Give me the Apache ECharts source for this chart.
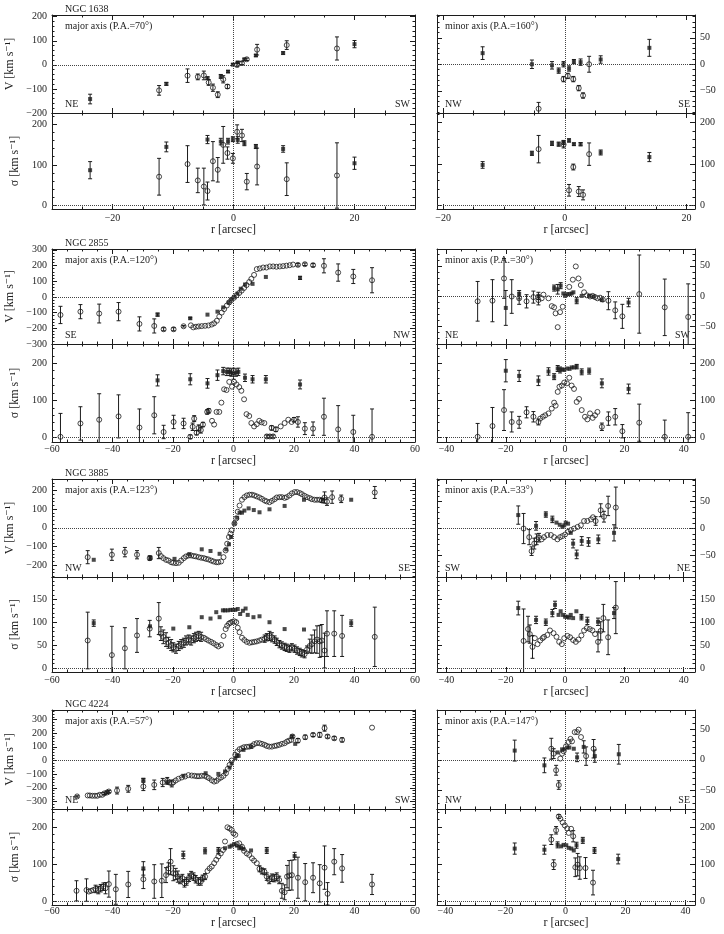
<!DOCTYPE html>
<html>
<head>
<meta charset="utf-8">
<script src="https://cdn.jsdelivr.net/npm/echarts@6/dist/echarts.min.js"></script>
<style>
    html, body { margin: 0; padding: 0; background: #fff; }
    #chart { width: 724px; height: 934px; }
</style>
</head>
<body>
<div id="chart"></div>
<script>
    // each point: [r (arcsec), value (km/s), error half-length (0 = no bar)]
    const galaxies = ['NGC 1638', 'NGC 2855', 'NGC 3885', 'NGC 4224'];
    const majorPA = ['70', '120', '123', '57'];
    const minorPA = ['160', '30', '33', '147'];
    const majorEnds = [['NE', 'SW'], ['SE', 'NW'], ['NW', 'SE'], ['NE', 'SW']];
    const minorEnds = [['NW', 'SE'], ['NE', 'SW'], ['SW', 'NE'], ['NW', 'SE']];

    // ---------- NGC 1638 ----------
    const n1638MajVOpen = [[-12.3,-106,20],[-7.6,-45,28],[-5.9,-50,12],[-4.9,-44,18],[-4.1,-73,12],[-3.4,-95,15],[-2.6,-124,12],[-1.7,-60,15],[-1.0,-90,8],[0.6,0,8],[1.4,7,6],[2.2,23,5],[3.9,63,22],[8.8,82,18],[17.1,68,48]];
    const n1638MajVFill = [[-23.7,-142,20],[-11.1,-79,6],[-4.3,-55,5],[-2.1,-48,8],[-0.9,-28,4],[-0.1,1,4],[0.7,10,4],[1.8,23,4],[3.7,39,4],[8.2,49,5],[20.0,86,15]];
    const n1638MajSOpen = [[-12.3,71,45],[-7.6,102,45],[-5.9,62,30],[-4.9,47,45],[-4.3,36,22],[-3.4,109,48],[-2.6,88,30],[-1.7,149,45],[-1.0,129,15],[-0.1,116,12],[0.6,181,17],[1.4,172,15],[2.2,59,20],[3.9,96,45],[8.8,65,40],[17.1,74,80]];
    const n1638MajSFill = [[-23.7,87,21],[-11.1,144,12],[-4.3,162,10],[-2.1,157,8],[-0.9,158,7],[-0.1,163,6],[0.7,161,8],[1.8,153,6],[3.7,145,5],[8.2,139,8],[20.0,104,15]];
    const n1638MinVOpen = [[-4.3,-84,12],[-0.2,-28,5],[0.5,-22,5],[1.4,-28,5],[2.3,-45,5],[3.0,-59,5],[4.0,0,15]];
    const n1638MinVFill = [[-13.5,21,12],[-5.4,0,8],[-2.1,-2,7],[-1.0,-12,5],[-0.2,0,5],[0.7,-8,5],[1.5,5,4],[2.6,4,6],[5.9,9,7],[13.9,31,16]];
    const n1638MinSOpen = [[-4.3,136,33],[-0.2,147,8],[0.7,37,14],[1.4,93,7],[2.3,34,12],[3.0,26,12],[4.0,124,27]];
    const n1638MinSFill = [[-13.5,98,8],[-5.4,126,5],[-2.1,150,5],[-1.0,148,5],[-0.2,152,5],[0.7,157,4],[1.5,148,3],[2.6,148,4],[5.9,128,6],[13.9,117,11]];

    // ---------- NGC 2855 ----------
    const n2855MajVOpen = [[-57.2,-115,55],[-50.6,-94,45],[-44.4,-106,60],[-38.0,-94,58],[-31.1,-172,45],[-26.2,-185,45],[-23.1,-206,10],[-19.8,-206,10],[-16.5,-187,5],[-14.1,-181,0],[-13.3,-194,0],[-12.4,-190,0],[-11.5,-188,0],[-10.5,-186,0],[-9.4,-184,0],[-8.3,-182,0],[-7.2,-176,0],[-6.4,-168,0],[-5.5,-152,0],[-4.7,-125,0],[-3.9,-100,0],[-3.1,-78,0],[-2.2,-55,0],[-1.4,-35,0],[-0.7,-20,0],[0.2,-5,0],[1.0,10,0],[1.9,25,0],[2.7,40,0],[3.5,57,0],[4.3,75,0],[5.2,95,0],[5.9,115,0],[6.8,140,0],[7.7,177,0],[8.7,181,0],[9.8,187,0],[10.9,187,0],[12.0,194,0],[13.1,194,0],[14.2,192,0],[15.3,194,0],[16.4,196,0],[17.5,199,0],[18.6,202,0],[19.7,206,0],[21.3,204,8],[23.6,208,8],[26.3,202,10],[29.9,198,45],[34.6,155,55],[39.6,130,45],[45.8,106,80]];
    const n2855MajVFill = [[-25.1,-113,10],[-14.3,-136,5],[-8.6,-113,0],[-5.3,-94,0],[-3.4,-67,0],[-1.6,-36,0],[-0.7,-15,0],[0.2,0,0],[1.3,21,0],[2.4,52,0],[3.8,79,0],[6.3,83,0],[10.7,127,0],[22.0,121,10]];
    const n2855MajSOpen = [[-57.2,2,63],[-50.6,38,45],[-44.4,48,70],[-38.0,57,58],[-31.1,27,50],[-26.2,60,50],[-23.1,15,18],[-19.8,42,18],[-16.5,38,14],[-14.3,2,5],[-13.5,29,10],[-13.0,51,8],[-12.2,13,6],[-11.5,26,8],[-10.8,20,8],[-10.1,35,6],[-8.7,69,6],[-8.2,72,6],[-7.1,45,0],[-6.4,35,0],[-5.6,69,0],[-4.7,69,0],[-4.0,94,0],[-3.1,130,0],[-2.3,128,0],[-1.4,150,0],[-0.5,137,0],[0.2,150,0],[1.0,143,0],[1.9,136,0],[2.6,126,0],[3.5,103,0],[4.3,63,0],[5.2,58,0],[5.9,39,0],[6.8,30,0],[7.7,36,0],[8.5,45,0],[9.3,41,0],[10.2,39,0],[11.0,3,4],[12.0,3,4],[12.6,26,6],[13.1,3,4],[14.0,22,6],[15.6,30,0],[16.9,39,0],[18.1,48,0],[19.2,42,0],[20.0,48,6],[21.3,42,14],[23.6,24,16],[26.3,24,18],[29.9,56,50],[34.6,22,64],[39.6,15,45],[45.8,2,75]];
    const n2855MajSFill = [[-25.1,154,15],[-14.3,157,15],[-8.6,146,13],[-5.3,168,14],[-3.4,179,10],[-2.2,177,10],[-1.4,177,10],[-0.7,175,10],[0.0,172,15],[0.8,175,10],[1.6,177,10],[3.8,161,10],[6.3,157,10],[10.7,157,10],[22.0,143,12]];
    const n2855MinVOpen = [[-29.5,-9,33],[-24.5,-8,35],[-20.6,29,33],[-18.0,-1,28],[-15.5,-4,10],[-13.0,-9,11],[-10.7,-2,10],[-9.0,-7,8],[-7.9,-4,0],[-7.3,2,0],[-5.6,-4,0],[-4.5,-17,0],[-3.7,-19,0],[-3.2,-29,0],[-2.5,-52,0],[-1.7,-27,0],[-0.8,-18,0],[1.4,15,0],[2.6,27,0],[3.6,49,0],[4.5,29,0],[5.3,18,0],[6.4,6,0],[7.3,1,0],[8.4,-1,0],[9.3,0,0],[10.1,-2,0],[10.9,-4,0],[11.8,-3,0],[12.7,-6,0],[14.6,-8,15],[16.9,-24,14],[19.3,-34,20],[25.0,3,65],[33.6,-19,47],[41.5,-35,55]];
    const n2855MinVFill = [[-20.0,-20,29],[-15.5,2,7],[-9.0,0,6],[-3.7,13,5],[-2.5,11,8],[-1.5,17,5],[-0.6,4,0],[0.0,0,0],[0.6,3,0],[1.5,3,0],[2.2,4,0],[2.8,6,0],[3.9,-8,5],[5.6,0,0],[8.1,0,0],[9.6,-1,0],[12.4,-7,0],[21.4,-11,7]];
    const n2855MinSOpen = [[-29.5,2,36],[-24.5,31,50],[-20.6,74,55],[-18.0,42,27],[-15.5,41,16],[-13.0,68,15],[-10.7,56,14],[-9.0,42,8],[-8.4,51,0],[-7.5,56,0],[-6.7,60,0],[-5.6,65,0],[-4.5,78,0],[-3.7,94,0],[-3.2,86,0],[-2.5,123,0],[-1.9,137,0],[-1.1,140,0],[-0.3,148,0],[0.6,146,0],[1.4,161,0],[2.2,140,0],[3.0,131,0],[3.9,96,0],[4.7,104,0],[5.6,74,0],[6.7,56,0],[7.5,49,0],[8.4,65,0],[9.3,53,0],[10.1,60,0],[10.9,69,0],[12.4,29,10],[14.6,51,18],[16.9,56,22],[19.3,17,18],[25.0,40,50],[33.6,2,45],[41.5,2,65]];
    const n2855MinSFill = [[-20.0,180,30],[-15.5,166,15],[-9.0,153,13],[-5.6,178,10],[-3.7,164,8],[-2.5,186,8],[-1.7,182,8],[-0.9,184,0],[-0.3,182,0],[0.6,186,0],[1.5,185,0],[2.2,189,0],[3.0,189,0],[3.9,191,6],[5.6,177,8],[8.1,179,8],[12.4,146,12],[21.4,131,13]];

    // ---------- NGC 3885 ----------
    const n3885MajVOpen = [[-48.2,-157,35],[-40.2,-144,30],[-35.9,-130,25],[-31.9,-144,22],[-27.7,-162,12],[-24.7,-135,30],[-24.0,-151,0],[-23.2,-162,0],[-22.3,-171,0],[-21.5,-175,0],[-20.6,-184,0],[-19.9,-187,0],[-19.0,-189,0],[-18.1,-187,0],[-17.3,-175,0],[-16.4,-162,0],[-15.7,-153,0],[-14.8,-148,0],[-14.0,-148,0],[-13.1,-151,0],[-12.4,-153,0],[-11.5,-157,0],[-10.7,-160,0],[-9.8,-162,0],[-9.1,-166,0],[-8.3,-169,0],[-7.4,-175,0],[-6.6,-180,0],[-5.7,-184,0],[-5.0,-184,0],[-4.1,-180,0],[-3.3,-157,0],[-2.6,-121,0],[-2.1,-85,0],[-1.5,-49,0],[-1.0,-31,0],[-0.6,-13,0],[0.3,23,0],[0.9,50,0],[1.4,86,0],[2.0,119,0],[2.8,150,0],[3.6,164,0],[4.4,173,0],[5.3,177,0],[6.1,177,0],[6.9,173,0],[7.7,168,0],[8.6,162,0],[9.4,155,0],[10.3,146,0],[11.0,141,0],[11.9,137,0],[12.7,144,0],[13.6,153,0],[14.3,162,0],[15.2,164,0],[16.0,164,0],[16.9,160,0],[17.6,164,0],[18.5,173,0],[19.3,184,0],[20.2,191,0],[21.0,191,0],[21.9,186,0],[22.6,180,0],[23.5,171,0],[24.3,164,0],[25.2,159,0],[25.9,153,0],[26.8,150,0],[27.6,150,0],[28.5,150,0],[29.2,146,10],[30.1,162,30],[30.9,140,20],[32.6,164,33],[35.6,155,20],[46.7,189,32]];
    const n3885MajVFill = [[-46.2,-171,0],[-27.5,-160,8],[-19.5,-166,0],[-14.6,-141,0],[-10.5,-115,0],[-7.6,-124,0],[-4.6,-139,0],[-2.4,-115,0],[-1.5,-88,0],[-0.8,-49,0],[0.3,23,0],[1.2,54,0],[2.0,81,0],[2.8,81,0],[3.6,92,0],[5.0,104,0],[6.7,95,0],[8.6,83,0],[11.9,99,0],[16.9,117,0],[23.3,150,0],[29.5,151,0],[38.9,150,0]];
    const n3885MajSOpen = [[-48.2,60,62],[-40.2,28,63],[-35.9,43,45],[-31.9,71,37],[-27.7,86,18],[-24.7,108,35],[-24.0,75,15],[-23.2,68,15],[-22.3,62,15],[-21.5,55,12],[-20.6,50,12],[-19.9,45,10],[-19.0,42,10],[-18.1,48,10],[-17.3,52,10],[-16.4,55,10],[-15.7,60,10],[-14.8,62,10],[-14.0,60,10],[-13.1,65,10],[-12.4,68,10],[-11.5,70,10],[-10.7,68,10],[-9.8,66,0],[-9.1,63,0],[-8.3,60,0],[-7.4,57,0],[-6.6,54,0],[-5.7,50,0],[-5.0,47,0],[-4.1,50,0],[-3.3,70,0],[-2.6,85,0],[-2.1,92,0],[-1.5,97,0],[-1.0,99,0],[-0.4,101,0],[0.3,102,0],[0.9,100,0],[1.4,88,0],[2.0,78,0],[2.8,66,0],[3.6,61,0],[4.4,57,0],[5.3,55,0],[6.1,56,0],[6.9,57,0],[7.7,58,0],[8.6,60,0],[9.4,62,0],[10.3,64,8],[11.0,67,8],[11.9,70,10],[12.7,67,10],[13.6,62,8],[14.3,57,8],[15.2,52,8],[16.0,49,8],[16.9,46,8],[17.6,44,8],[18.5,42,8],[19.3,45,8],[20.2,42,8],[21.0,38,8],[21.9,35,8],[22.6,32,8],[23.5,30,8],[24.3,40,8],[25.2,48,15],[25.9,52,20],[26.8,58,25],[27.6,62,30],[28.5,58,35],[29.2,60,35],[30.1,38,38],[30.9,75,50],[33.3,75,50],[35.9,70,45],[46.7,68,65]];
    const n3885MajSFill = [[-46.2,98,7],[-27.6,91,0],[-19.9,86,0],[-14.6,89,0],[-10.5,111,0],[-7.6,108,0],[-5.7,122,0],[-4.6,111,0],[-3.5,126,0],[-2.8,126,0],[-1.9,126,0],[-1.0,127,0],[-0.2,127,0],[0.6,127,0],[1.4,129,0],[2.2,118,0],[3.1,125,0],[4.0,130,0],[4.7,116,0],[6.6,111,0],[8.6,113,0],[11.9,100,0],[16.9,85,0],[23.3,84,0],[38.9,98,7]];
    const n3885MinVOpen = [[-14.0,0,28],[-12.1,-16,14],[-11.3,-42,8],[-10.4,-28,10],[-9.6,-20,10],[-8.8,-17,8],[-7.9,-20,0],[-7.1,-16,0],[-6.0,-12,0],[-4.8,-12,0],[-3.7,-16,0],[-2.6,-20,0],[-1.7,-16,0],[-0.9,-14,0],[0.0,-11,0],[1.0,-6,0],[1.9,-3,0],[3.0,0,0],[4.2,3,0],[5.3,6,0],[6.4,14,0],[7.5,14,0],[8.7,17,0],[9.4,21,0],[10.3,14,8],[12.0,34,12],[13.1,22,10],[14.5,42,18],[17.1,39,38]];
    const n3885MinVFill = [[-15.8,25,17],[-9.8,5,8],[-6.5,26,5],[-4.3,17,6],[-2.9,11,0],[-1.8,7,0],[-0.9,3,0],[-0.3,6,0],[0.2,11,0],[1.0,9,0],[1.9,-8,0],[2.7,-28,8],[3.9,-48,8],[5.6,-23,8],[7.9,-25,8],[11.2,-20,8],[16.5,-8,15]];
    const n3885MinSOpen = [[-14.0,59,70],[-12.5,85,28],[-11.9,74,20],[-11.0,46,25],[-10.2,65,0],[-9.3,52,0],[-8.4,60,0],[-7.6,65,0],[-7.1,68,0],[-6.0,72,0],[-5.1,82,0],[-3.9,76,0],[-2.9,68,0],[-2.0,57,0],[-1.1,52,0],[-0.3,65,0],[0.8,70,0],[1.7,67,0],[2.7,61,0],[3.6,57,0],[4.5,62,0],[5.5,71,0],[6.4,82,0],[7.3,87,0],[8.3,85,0],[9.2,82,0],[10.1,74,0],[11.1,57,22],[12.0,81,20],[12.9,109,30],[14.5,67,38],[17.1,132,57]];
    const n3885MinSFill = [[-15.8,131,15],[-9.8,105,8],[-6.5,100,7],[-4.3,120,8],[-3.4,138,8],[-2.2,116,0],[-1.5,124,0],[-0.7,116,0],[0.0,112,0],[0.6,112,0],[1.3,110,0],[1.9,116,0],[2.7,109,0],[3.8,124,0],[5.5,111,6],[7.5,103,8],[11.1,101,8],[16.5,120,12]];

    // ---------- NGC 4224 ----------
    const n4224MajVOpen = [[-51.7,-263,5],[-48.2,-256,0],[-47.5,-256,0],[-46.7,-258,0],[-45.8,-258,0],[-45.0,-258,0],[-44.2,-251,0],[-43.4,-251,0],[-42.7,-241,8],[-41.8,-234,8],[-41.2,-227,8],[-38.5,-220,25],[-34.8,-207,25],[-29.8,-190,30],[-26.2,-178,35],[-23.4,-161,30],[-21.9,-149,25],[-21.2,-161,0],[-20.4,-168,25],[-19.9,-159,0],[-19.1,-146,0],[-18.2,-134,0],[-17.1,-124,0],[-16.0,-117,0],[-14.9,-107,0],[-13.8,-110,0],[-12.9,-112,0],[-12.1,-115,0],[-11.4,-115,0],[-10.5,-112,0],[-9.6,-112,0],[-8.8,-120,0],[-8.1,-129,0],[-7.2,-144,0],[-6.4,-154,0],[-5.6,-149,0],[-4.9,-134,0],[-4.1,-124,0],[-3.3,-112,0],[-2.5,-93,0],[-1.9,-61,0],[-1.3,-32,0],[-0.6,0,0],[0.6,41,0],[1.3,66,0],[2.0,83,0],[2.8,90,0],[3.5,98,0],[4.4,100,0],[5.2,102,0],[6.1,107,0],[6.8,120,0],[7.7,127,0],[8.6,127,0],[9.4,122,0],[10.3,115,0],[11.0,107,0],[11.8,102,0],[12.7,102,0],[13.6,107,0],[14.3,110,0],[15.1,115,0],[16.0,122,0],[16.9,127,0],[17.7,139,0],[18.4,146,0],[19.1,151,0],[19.5,176,10],[21.3,146,15],[23.7,171,15],[26.3,188,12],[28.5,188,18],[30.1,237,22],[31.1,176,12],[33.3,163,12],[35.9,151,15],[45.8,241,0]];
    const n4224MajVFill = [[-29.8,-141,10],[-21.9,-158,0],[-16.6,-112,0],[-9.2,-93,0],[-5.0,-98,0],[-2.8,-80,0],[-1.3,-51,0],[-0.6,-20,0],[0.6,17,0],[1.1,34,0],[1.7,34,0],[3.3,78,0],[5.8,100,0],[19.3,176,0],[20.4,122,0]];
    const n4224MajSOpen = [[-51.9,29,27],[-48.6,31,30],[-47.8,27,0],[-47.1,29,0],[-46.4,31,0],[-45.6,34,10],[-44.7,31,10],[-43.9,36,10],[-43.0,40,10],[-42.3,36,15],[-41.2,47,35],[-38.9,33,40],[-34.8,46,35],[-29.8,60,25],[-26.2,54,45],[-23.7,56,45],[-22.3,71,20],[-21.5,89,15],[-20.8,107,35],[-19.9,76,20],[-19.1,74,15],[-18.4,67,15],[-17.7,58,10],[-16.9,63,10],[-16.2,49,10],[-15.5,54,10],[-14.7,64,10],[-14.0,71,10],[-13.2,67,10],[-12.5,60,10],[-11.6,54,10],[-10.8,54,10],[-10.2,63,8],[-9.4,67,8],[-8.6,82,0],[-7.9,89,0],[-7.2,94,0],[-6.4,103,0],[-5.7,112,0],[-5.0,121,0],[-4.2,129,0],[-3.5,138,0],[-2.8,161,0],[-2.0,199,0],[-1.3,196,0],[-0.6,192,0],[0.0,183,0],[0.6,179,0],[1.1,154,0],[1.9,156,0],[2.8,147,0],[3.5,136,0],[4.4,129,0],[5.2,125,0],[6.1,116,0],[6.8,110,0],[7.7,103,0],[8.6,88,8],[9.4,82,8],[10.2,80,8],[11.0,67,10],[11.8,58,10],[12.7,64,10],[13.5,63,10],[14.3,67,10],[15.1,58,10],[16.0,29,20],[16.9,25,20],[17.7,67,30],[18.4,70,40],[19.3,71,40],[21.3,64,55],[23.7,52,50],[26.3,64,40],[28.5,49,50],[30.1,91,58],[31.1,21,30],[33.3,107,35],[35.9,89,37],[45.8,46,27]];
    const n4224MajSFill = [[-29.8,89,18],[-16.6,125,10],[-9.4,136,8],[-5.0,137,8],[-2.8,143,0],[-1.3,147,0],[-0.6,150,0],[0.2,154,0],[1.1,150,0],[1.9,143,0],[2.5,145,0],[3.3,141,0],[5.8,137,0],[11.0,137,8],[20.2,122,10]];
    const n4224MinVOpen = [[-4.7,18,17],[-3.9,10,8],[-3.1,-17,8],[-2.2,-41,7],[-1.7,2,0],[-1.1,10,0],[-0.6,14,0],[0.2,22,0],[1.1,29,0],[1.7,34,0],[2.2,30,0],[3.1,45,0],[3.9,45,0],[4.4,49,0],[5.2,37,0],[6.9,6,15],[9.4,18,15]];
    const n4224MinVFill = [[-16.9,15,17],[-7.0,-9,12],[-2.6,12,0],[-1.1,17,0],[-0.3,17,0],[0.6,20,0],[1.3,20,0],[2.8,18,0],[3.9,4,7],[6.1,21,10],[9.8,6,10],[17.8,9,16]];
    const n4224MinSOpen = [[-4.7,166,13],[-3.9,99,13],[-3.1,191,10],[-2.2,228,5],[-1.7,222,0],[-0.9,212,0],[-0.2,204,0],[0.6,196,0],[1.1,184,0],[1.9,195,0],[2.6,175,15],[3.3,92,25],[4.1,99,30],[4.8,90,30],[6.7,90,28],[9.2,51,33]];
    const n4224MinSFill = [[-16.9,142,15],[-7.0,139,12],[-2.6,152,8],[-1.4,148,0],[-0.6,152,0],[0.3,151,0],[1.1,144,0],[2.0,142,0],[2.8,137,0],[3.7,151,8],[5.8,164,8],[9.7,137,8],[17.6,114,13]];

    // [majV open, majV fill, majS open, majS fill, minV open, minV fill, minS open, minS fill]
    const sets = [
        [n1638MajVOpen, n1638MajVFill, n1638MajSOpen, n1638MajSFill, n1638MinVOpen, n1638MinVFill, n1638MinSOpen, n1638MinSFill],
        [n2855MajVOpen, n2855MajVFill, n2855MajSOpen, n2855MajSFill, n2855MinVOpen, n2855MinVFill, n2855MinSOpen, n2855MinSFill],
        [n3885MajVOpen, n3885MajVFill, n3885MajSOpen, n3885MajSFill, n3885MinVOpen, n3885MinVFill, n3885MinSOpen, n3885MinSFill],
        [n4224MajVOpen, n4224MajVFill, n4224MajSOpen, n4224MajSFill, n4224MinVOpen, n4224MinVFill, n4224MinSOpen, n4224MinSFill]
    ];

    // layout: ranges are [min, max, splitNumber, label step]
    const blocks = [
        {vTop: 15, vH: 98, sH: 96, lm: 4, ng: 13,
            L: {x: [-30, 30, 3], v: [-200, 207, 4, 100], s: [-8, 227, 2, 100]},
            R: {x: [-21, 21.4, 2], v: [-92, 93, 4, 50], s: [-8, 223, 2, 100]}},
        {vTop: 249, vH: 95, sH: 98, lm: 2, ng: 10,
            L: {x: [-60, 60, 6], v: [-300, 305, 6, 100], s: [-12, 252, 2, 100]},
            R: {x: [-43.2, 43.8, 4], v: [-80, 78, 3, 50], s: [-12, 252, 2, 100]}},
        {vTop: 479, vH: 98, sH: 95, lm: 3, ng: 10,
            L: {x: [-60, 60, 6], v: [-263, 261, 5, 100], s: [-9, 199, 4, 50]},
            R: {x: [-43.2, 43.8, 4], v: [-90, 92, 4, 50], s: [-9, 199, 4, 50]}},
        {vTop: 710, vH: 99, sH: 96, lm: 1, ng: 8,
            L: {x: [-60, 60, 6], v: [-355, 370, 7, 100], s: [-9, 248, 2, 100]},
            R: {x: [-42.8, 43.2, 4], v: [-80, 81, 3, 50], s: [-9, 248, 2, 100]}}
    ];
    const cols = {L: {left: 52, width: 363}, R: {left: 437, width: 258}};

    const INK = '#1c1c1c';
    const FONT = '"Liberation Serif", "DejaVu Serif", serif';

    function fmt(step) {
        return function (v) {
            const k = v / step;
            if (Math.abs(k - Math.round(k)) > 1e-6) return '';
            const r = Math.round(v);
            return r < 0 ? '\u2212' + Math.abs(r) : String(r);
        };
    }

    function axisBase(g, r, minor) {
        return {
            type: 'value', gridIndex: g, min: r[0], max: r[1], splitNumber: r[2],
            axisLine: {show: true, onZero: false, lineStyle: {color: INK, width: 1}},
            axisTick: {show: true, inside: true, length: 5, lineStyle: {color: INK, width: 1}},
            minorTick: {show: true, splitNumber: minor, length: 2.5, lineStyle: {color: INK, width: 1}},
            splitLine: {show: false},
            axisLabel: {show: false},
            axisPointer: {show: false}
        };
    }

    function errBars(xi, yi, pts) {
        return {
            type: 'custom', xAxisIndex: xi, yAxisIndex: yi, clip: true, silent: true, z: 2,
            data: pts.filter(p => p[2] > 0).map(p => [p[0], p[1] - p[2], p[1] + p[2]]),
            renderItem: function (params, api) {
                const a = api.coord([api.value(0), api.value(1)]);
                const b = api.coord([api.value(0), api.value(2)]);
                const st = {stroke: INK, lineWidth: 1};
                return {
                    type: 'group', children: [
                        {type: 'line', shape: {x1: a[0], y1: a[1], x2: b[0], y2: b[1]}, style: st},
                        {type: 'line', shape: {x1: a[0] - 2, y1: a[1], x2: a[0] + 2, y2: a[1]}, style: st},
                        {type: 'line', shape: {x1: b[0] - 2, y1: b[1], x2: b[0] + 2, y2: b[1]}, style: st}
                    ]
                };
            }
        };
    }

    const grids = [], xAxes = [], yAxes = [], series = [], graphic = [];

    function panel(p) {
        const g = grids.length;
        grids.push({left: p.left, top: p.top, width: p.width, height: p.height, containLabel: false, outerBoundsMode: 'none'});
        const xb = axisBase(g, p.x, 4); xb.position = 'bottom';
        const xt = axisBase(g, p.x, 4); xt.position = 'top';
        if (p.xLabels) {
            xb.axisLabel = {show: true, formatter: fmt(20), color: INK, fontFamily: FONT, fontSize: 10, margin: p.lm};
            xb.name = 'r [arcsec]';
            xb.nameLocation = 'middle';
            xb.nameGap = p.ng;
            xb.nameTextStyle = {color: INK, fontFamily: FONT, fontSize: 12};
        }
        const yl = axisBase(g, p.y, 5); yl.position = 'left';
        const yr = axisBase(g, p.y, 5); yr.position = 'right';
        const lab = p.side === 'L' ? yl : yr;
        lab.axisLabel = {show: true, formatter: fmt(p.y[3]), color: INK, fontFamily: FONT, fontSize: 10, margin: 5};
        if (p.yName) {
            yl.name = p.yName;
            yl.nameLocation = 'middle';
            yl.nameGap = 21;
            yl.nameTextStyle = {color: INK, fontFamily: FONT, fontSize: 12};
        }
        const xi = xAxes.length; xAxes.push(xb, xt);
        const yi = yAxes.length; yAxes.push(yl, yr);
        series.push(errBars(xi, yi, p.open));
        series.push(errBars(xi, yi, p.fill));
        series.push({
            type: 'scatter', xAxisIndex: xi, yAxisIndex: yi, z: 3, silent: true,
            data: p.open.map(d => [d[0], d[1]]),
            symbol: 'circle', symbolSize: 5,
            itemStyle: {color: 'rgba(255,255,255,0)', borderColor: INK, borderWidth: 1},
            markLine: {
                silent: true, symbol: ['none', 'none'], label: {show: false},
                lineStyle: {type: 'dotted', color: '#444', width: 1},
                data: [{yAxis: 0}, {xAxis: 0}]
            }
        });
        series.push({
            type: 'scatter', xAxisIndex: xi, yAxisIndex: yi, z: 4, silent: true,
            data: p.fill.map(d => [d[0], d[1]]),
            symbol: 'rect', symbolSize: 4,
            itemStyle: {color: INK}
        });
    }

    function txt(x, y, s, align) {
        graphic.push({
            type: 'text', x: x, y: y, silent: true,
            style: {text: s, fill: INK, font: '10px ' + FONT, align: align || 'left', verticalAlign: 'middle'}
        });
    }

    blocks.forEach((b, i) => {
        const sTop = b.vTop + b.vH;
        ['L', 'R'].forEach((c, j) => {
            const col = cols[c], ax = b[c], d = sets[i];
            const k = j * 4;
            panel({left: col.left, width: col.width, top: b.vTop, height: b.vH, side: c,
                x: ax.x, y: ax.v, open: d[k], fill: d[k + 1], yName: c === 'L' ? 'V [km s\u207B\u00B9]' : ''});
            panel({left: col.left, width: col.width, top: sTop, height: b.sH, side: c, xLabels: true, lm: b.lm, ng: b.ng,
                x: ax.x, y: ax.s, open: d[k + 2], fill: d[k + 3], yName: c === 'L' ? '\u03C3 [km s\u207B\u00B9]' : ''});
            const ends = c === 'L' ? majorEnds[i] : minorEnds[i];
            const title = c === 'L' ? 'major axis (P.A.=' + majorPA[i] + '\u00B0)' : 'minor axis (P.A.=' + minorPA[i] + '\u00B0)';
            txt(col.left + (c === 'L' ? 13 : 8), b.vTop + 11, title);
            txt(col.left + (c === 'L' ? 13 : 8), b.vTop + b.vH - 9, ends[0]);
            txt(col.left + col.width - 5, b.vTop + b.vH - 9, ends[1], 'right');
        });
        txt(65, b.vTop - 6, galaxies[i]);
    });

    const chart = echarts.init(document.getElementById('chart'), null, {renderer: 'canvas'});
    chart.setOption({
        animation: false,
        backgroundColor: '#fff',
        textStyle: {fontFamily: FONT},
        grid: grids,
        xAxis: xAxes,
        yAxis: yAxes,
        series: series,
        graphic: graphic
    });
</script>
</body>
</html>
